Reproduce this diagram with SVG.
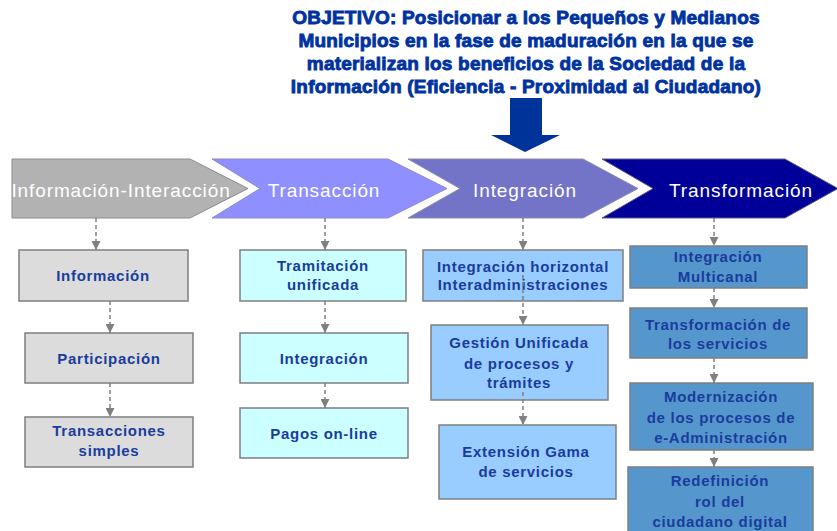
<svg xmlns="http://www.w3.org/2000/svg" width="837" height="531" viewBox="0 0 837 531">
<style>
.hdr{font-family:"Liberation Sans",Arial,sans-serif;font-size:19px;font-weight:bold;fill:#0033a0;stroke:#0033a0;stroke-width:0.9;letter-spacing:0.2px;text-anchor:middle}
.chv{font-family:"Liberation Sans",Arial,sans-serif;font-size:19px;fill:#ffffff;letter-spacing:0.9px;text-anchor:middle}
.bt{font-family:"Liberation Sans",Arial,sans-serif;font-size:15px;font-weight:bold;fill:#1a3c9c;letter-spacing:0.7px;text-anchor:middle}
.box{stroke:#7f7f7f;stroke-width:1.5}
.g{fill:#dcdcdc}.cy{fill:#ccffff}.lb{fill:#99ccff}.sb{fill:#5597cc}
.con{stroke:#808080;stroke-width:1.5;stroke-dasharray:4 3;fill:none;marker-end:url(#ah)}
</style>
<defs>
<marker id="ah" markerUnits="userSpaceOnUse" markerWidth="10" markerHeight="9" refX="4.5" refY="9" orient="0" viewBox="0 0 10 9">
<path d="M0,0 L9,0 L4.5,9 Z" fill="#808080"/>
</marker>
</defs>
<rect width="837" height="531" fill="#ffffff"/>
<g id="objetivo">
<text class="hdr" x="526" y="24">OBJETIVO: Posicionar a los Pequeños y Medianos</text>
<text class="hdr" x="526" y="47">Municipios en la fase de maduración en la que se</text>
<text class="hdr" x="526" y="70">materializan los beneficios de la Sociedad de la</text>
<text class="hdr" x="526" y="93">Información (Eficiencia - Proximidad al Ciudadano)</text>
<polygon points="510,98 542,98 542,135 560,135 525,152 491,135 510,135" fill="#003399"/>
</g>
<g id="fase1">
<polygon points="12,159 190,159 248,188.5 190,218 12,218" fill="#b2b2b2" stroke="#8c8c8c" stroke-width="1"/>
<text class="chv" x="121" y="197">Información-Interacción</text>
</g>
<g id="fase2">
<polygon points="212,159 388,159 447,188.5 388,218 212,218 260,188.5" fill="#8f8fff" stroke="#8c8cc8" stroke-width="1"/>
<text class="chv" x="324" y="197">Transacción</text>
</g>
<g id="fase3">
<polygon points="408,159 583,159 638,188.5 583,218 408,218 460,188.5" fill="#7373c8" stroke="#8c8ca8" stroke-width="1"/>
<text class="chv" x="525" y="197">Integración</text>
</g>
<g id="fase4">
<polygon points="602,159 785,159 838,188.5 785,218 602,218 653,188.5" fill="#000099" stroke="#5a5a8c" stroke-width="1"/>
<text class="chv" x="741" y="197">Transformación</text>
</g>
<g id="informacion">
<rect class="box g" x="19" y="250" width="169" height="51"/>
<text class="bt" x="103" y="281">Información</text>
</g>
<g id="participacion">
<rect class="box g" x="25" y="333" width="168" height="50"/>
<text class="bt" x="109" y="364">Participación</text>
</g>
<g id="transacciones">
<rect class="box g" x="25" y="417" width="168" height="50"/>
<text class="bt" x="109" y="436">Transacciones</text>
<text class="bt" x="109" y="456">simples</text>
</g>
<g id="tramitacion">
<rect class="box cy" x="240" y="250" width="166" height="51"/>
<text class="bt" x="323" y="271">Tramitación</text>
<text class="bt" x="323" y="290">unificada</text>
</g>
<g id="integracion2">
<rect class="box cy" x="240" y="333" width="168" height="50"/>
<text class="bt" x="324" y="364">Integración</text>
</g>
<g id="pagos">
<rect class="box cy" x="240" y="408" width="168" height="50"/>
<text class="bt" x="324" y="439">Pagos on-line</text>
</g>
<g id="horizontal">
<rect class="box lb" x="423" y="250" width="200" height="51"/>
<text class="bt" x="523" y="272">Integración horizontal</text>
<text class="bt" x="523" y="290">Interadministraciones</text>
</g>
<g id="gestion">
<rect class="box lb" x="431" y="325" width="177" height="75"/>
<text class="bt" x="519" y="348">Gestión Unificada</text>
<text class="bt" x="519" y="369">de procesos y</text>
<text class="bt" x="519" y="388">trámites</text>
</g>
<g id="extension">
<rect class="box lb" x="439" y="425" width="177" height="74"/>
<text class="bt" x="526" y="457">Extensión Gama</text>
<text class="bt" x="526" y="477">de servicios</text>
</g>
<g id="multicanal">
<rect class="box sb" x="630" y="246" width="177" height="42"/>
<text class="bt" x="718" y="262">Integración</text>
<text class="bt" x="718" y="282">Multicanal</text>
</g>
<g id="transformacion">
<rect class="box sb" x="630" y="308" width="177" height="50"/>
<text class="bt" x="718" y="330">Transformación de</text>
<text class="bt" x="718" y="349">los servicios</text>
</g>
<g id="modernizacion">
<rect class="box sb" x="630" y="383" width="183" height="67"/>
<text class="bt" x="721" y="402">Modernización</text>
<text class="bt" x="721" y="423">de los procesos de</text>
<text class="bt" x="721" y="443">e-Administración</text>
</g>
<g id="redefinicion">
<rect class="box sb" x="628" y="467" width="185" height="75"/>
<text class="bt" x="720" y="486">Redefinición</text>
<text class="bt" x="720" y="507">rol del</text>
<text class="bt" x="720" y="527">ciudadano digital</text>
</g>
<g id="connectors">
<line class="con" x1="96" y1="218" x2="96" y2="250"/>
<line class="con" x1="110" y1="301" x2="110" y2="333"/>
<line class="con" x1="110" y1="383" x2="110" y2="417"/>
<line class="con" x1="325" y1="218" x2="325" y2="250"/>
<line class="con" x1="325" y1="301" x2="325" y2="333"/>
<line class="con" x1="325" y1="383" x2="325" y2="408"/>
<line class="con" x1="523" y1="218" x2="523" y2="250"/>
<line class="con" x1="523" y1="275" x2="523" y2="325"/>
<line class="con" x1="523" y1="392" x2="523" y2="425"/>
<line class="con" x1="714" y1="218" x2="714" y2="246"/>
<line class="con" x1="714" y1="288" x2="714" y2="308"/>
<line class="con" x1="714" y1="358" x2="714" y2="383"/>
<line class="con" x1="714" y1="450" x2="714" y2="467"/>
</g>
</svg>
